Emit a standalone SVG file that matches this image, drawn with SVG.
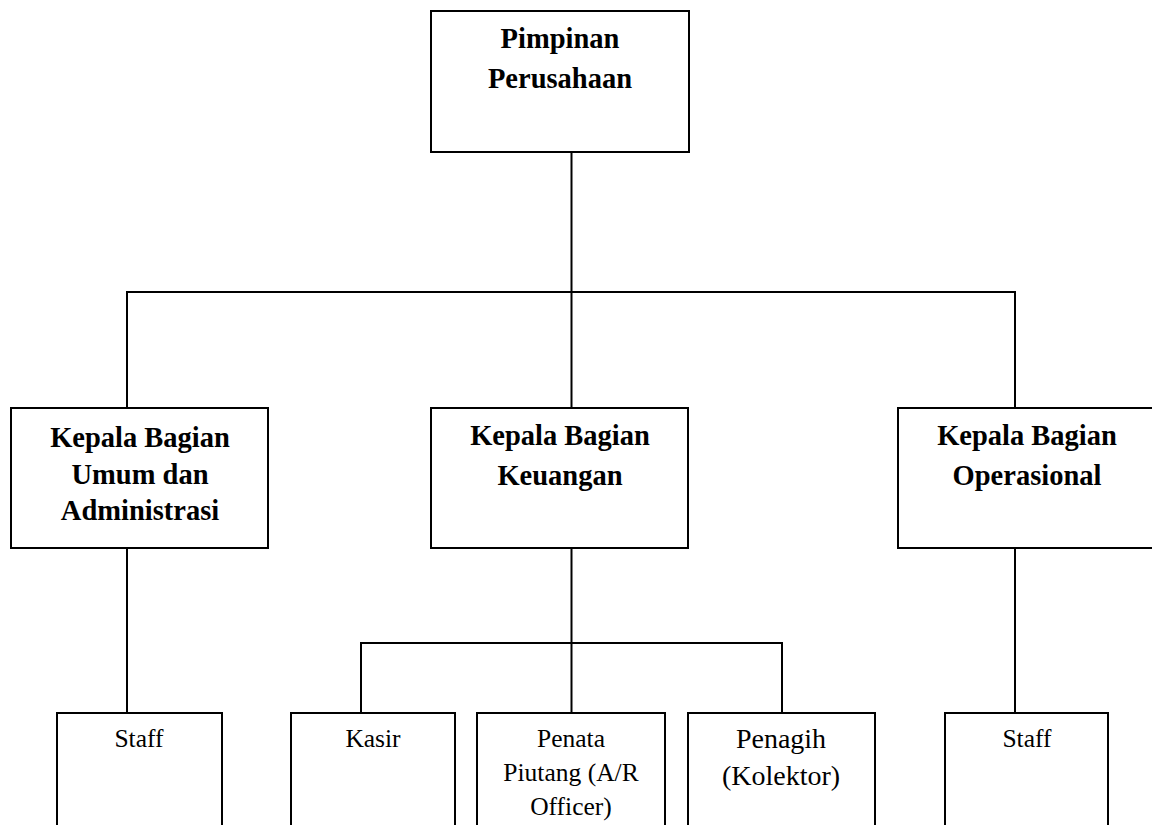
<svg xmlns="http://www.w3.org/2000/svg" width="1152" height="825" viewBox="0 0 1152 825">
<style>
.box{fill:#fff;stroke:#000;stroke-width:2}
.con{fill:none;stroke:#000;stroke-width:2}
.b{font-family:"Liberation Serif","Times New Roman",serif;font-weight:bold;font-size:28.5px;text-anchor:middle;fill:#000}
.r{font-family:"Liberation Serif","Times New Roman",serif;font-size:25.5px;text-anchor:middle;fill:#000}
.r2{font-family:"Liberation Serif","Times New Roman",serif;font-size:28px;text-anchor:middle;fill:#000}
</style>
<rect width="1152" height="825" fill="#fff"/>
<g id="connectors">
<line class="con" x1="571.5" y1="152" x2="571.5" y2="292"/>
<polyline class="con" points="127,408 127,292 1015,292 1015,408"/>
<line class="con" x1="571.5" y1="292" x2="571.5" y2="408"/>
<line class="con" x1="127" y1="548" x2="127" y2="713"/>
<line class="con" x1="571.5" y1="548" x2="571.5" y2="713"/>
<polyline class="con" points="361,713 361,643 782,643 782,713"/>
<line class="con" x1="1015" y1="548" x2="1015" y2="713"/>
</g>
<g id="pimpinan">
<rect class="box" x="431" y="11" width="258" height="141"/>
<text class="b" x="560" y="48">Pimpinan</text>
<text class="b" x="560" y="88">Perusahaan</text>
</g>
<g id="kb-umum">
<rect class="box" x="11" y="408" width="257" height="140"/>
<text class="b" x="140" y="447">Kepala Bagian</text>
<text class="b" x="140" y="484">Umum dan</text>
<text class="b" x="140" y="520">Administrasi</text>
</g>
<g id="kb-keuangan">
<rect class="box" x="431" y="408" width="257" height="140"/>
<text class="b" x="560" y="445">Kepala Bagian</text>
<text class="b" x="560" y="485">Keuangan</text>
</g>
<g id="kb-operasional">
<rect class="box" x="898" y="408" width="260" height="140"/>
<text class="b" x="1027" y="445">Kepala Bagian</text>
<text class="b" x="1027" y="485">Operasional</text>
</g>
<g id="staff-umum">
<rect class="box" x="57" y="713" width="165" height="120"/>
<text class="r" x="139" y="747">Staff</text>
</g>
<g id="kasir">
<rect class="box" x="291" y="713" width="164" height="120"/>
<text class="r" x="373" y="747">Kasir</text>
</g>
<g id="penata-piutang">
<rect class="box" x="477" y="713" width="188" height="120"/>
<text class="r" x="571" y="747">Penata</text>
<text class="r" x="571" y="781">Piutang (A/R</text>
<text class="r" x="571" y="815">Officer)</text>
</g>
<g id="penagih">
<rect class="box" x="688" y="713" width="187" height="120"/>
<text class="r2" x="781" y="748">Penagih</text>
<text class="r2" x="781" y="785">(Kolektor)</text>
</g>
<g id="staff-operasional">
<rect class="box" x="945" y="713" width="163" height="120"/>
<text class="r" x="1027" y="747">Staff</text>
</g>
</svg>
